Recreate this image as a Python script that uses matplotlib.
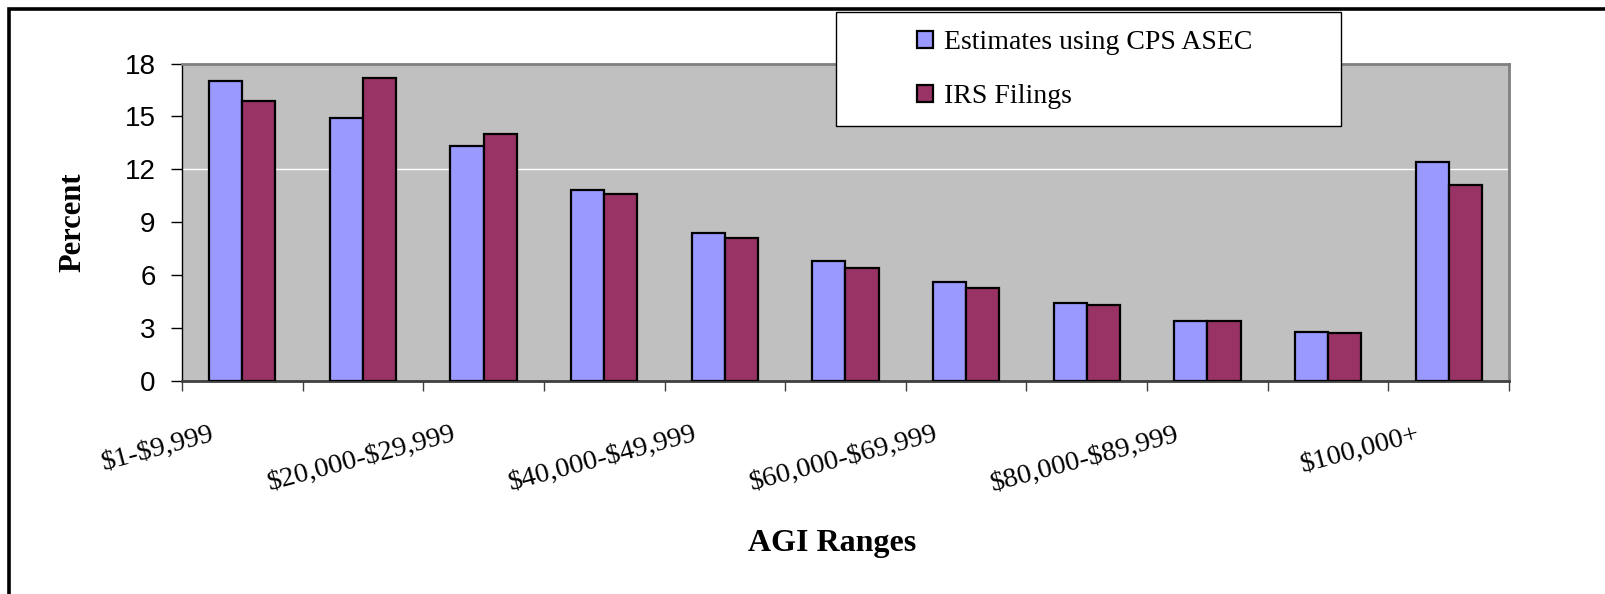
import matplotlib
matplotlib.use("Agg")
import matplotlib.pyplot as plt
from matplotlib.patches import Rectangle
import matplotlib.transforms as mtransforms
import numpy as np

plt.rcParams["text.parse_math"] = False

categories = ["$1-$9,999", "$10,000-$19,999", "$20,000-$29,999", "$30,000-$39,999",
              "$40,000-$49,999", "$50,000-$59,999", "$60,000-$69,999", "$70,000-$79,999",
              "$80,000-$89,999", "$90,000-$99,999", "$100,000+"]
cps_asec = [17.0, 14.9, 13.3, 10.8, 8.4, 6.8, 5.6, 4.4, 3.4, 2.8, 12.4]
irs_filings = [15.9, 17.2, 14.0, 10.6, 8.1, 6.4, 5.3, 4.3, 3.4, 2.7, 11.1]
series_names = ["Estimates using CPS ASEC", "IRS Filings"]
y_ticks = [0, 3, 6, 9, 12, 15, 18]

SERIF = ["Liberation Serif", "DejaVu Serif"]
SANS = ["Liberation Sans", "DejaVu Sans"]

W, H = 1606, 594
fig = plt.figure(figsize=(W / 100, H / 100), dpi=100)
fig.patch.set_facecolor("white")
ax = fig.add_axes([182 / W, 1 - 381 / H, (1509 - 182) / W, (381 - 63.5) / H])
ax.set_facecolor("#C0C0C0")

x = np.arange(len(categories))
w = 0.275
b1 = ax.bar(x - w / 2, cps_asec, width=w, color="#9999FF", edgecolor="black",
            linewidth=1.6, label=series_names[0], zorder=3)
b2 = ax.bar(x + w / 2, irs_filings, width=w, color="#993366", edgecolor="black",
            linewidth=1.6, label=series_names[1], zorder=3)

ax.axhline(12, color="white", linewidth=1, zorder=1)

ax.set_xlim(-0.5, len(categories) - 0.5)
ax.set_ylim(0, 18)
ax.set_yticks(y_ticks)
ax.set_yticklabels([str(t) for t in y_ticks], fontsize=20, family=SANS)
ax.tick_params(axis="y", direction="out", length=8, width=1, pad=11, colors="black")

# category boundaries as minor ticks, labels on every other category
ax.set_xticks(np.arange(-0.5, len(categories)), minor=True)
ax.set_xticks(x)
ax.set_xticklabels([c if i % 2 == 0 else "" for i, c in enumerate(categories)],
                   rotation=15, ha="right", va="top", rotation_mode="anchor",
                   fontsize=20.5, family=SERIF)
ax.tick_params(axis="x", which="major", length=0, pad=29.5)
ax.tick_params(axis="x", which="minor", length=7, width=1, color="#404040", direction="out")
offset = mtransforms.ScaledTranslation(-32 / 100, 0, fig.dpi_scale_trans)
for lab in ax.get_xticklabels():
    lab.set_transform(lab.get_transform() + offset)

for side in ("top", "right"):
    ax.spines[side].set_color("#808080")
    ax.spines[side].set_linewidth(2)
ax.spines["left"].set_color("black")
ax.spines["left"].set_linewidth(1)
ax.spines["bottom"].set_color("#404040")
ax.spines["bottom"].set_linewidth(2)

fig.text(72.7 / W, 1 - 222.5 / H, "Percent", rotation=90, ha="center", va="center",
         fontsize=22, fontweight="bold", family=SERIF)
fig.text(832.5 / W, 1 - 551 / H, "AGI Ranges", ha="center", va="baseline",
         fontsize=23, fontweight="bold", family=SERIF)

# legend box
fig.patches.append(Rectangle((836 / W, 1 - 126 / H), (1341 - 836) / W, (126 - 12) / H,
                             transform=fig.transFigure, facecolor="white",
                             edgecolor="black", linewidth=1, zorder=5))
leg = fig.legend(handles=[b1, b2], labels=series_names,
                 loc="upper left", bbox_to_anchor=(917 / W, 1 - 30 / H),
                 frameon=False, prop={"family": SERIF, "size": 20},
                 handlelength=0.58, handleheight=0.58, handletextpad=0.4,
                 labelspacing=1.06, borderpad=0, borderaxespad=0)
leg.set_zorder(10)

# outer chart border
fig.patches.append(Rectangle((9.5 / W, -0.1), 1.2, 1 - 9.5 / H + 0.1,
                             transform=fig.transFigure, fill=False,
                             edgecolor="black", linewidth=2.6, zorder=6))

fig.savefig("out.png", dpi=100)
